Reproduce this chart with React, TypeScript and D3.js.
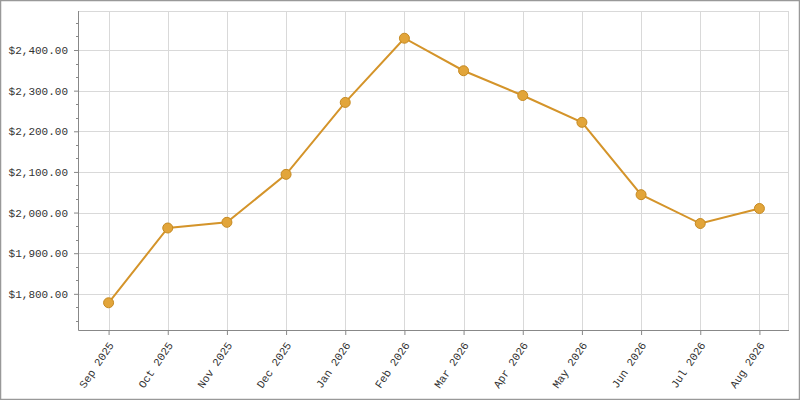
import React, {useEffect, useRef} from 'react';
import * as d3 from 'd3';

const WIDTH = 800;
const HEIGHT = 400;

const months = ['Sep 2025', 'Oct 2025', 'Nov 2025', 'Dec 2025', 'Jan 2026', 'Feb 2026',
    'Mar 2026', 'Apr 2026', 'May 2026', 'Jun 2026', 'Jul 2026', 'Aug 2026'];
const prices = [1778, 1962, 1976, 2094, 2271, 2429, 2349, 2288, 2222, 2044, 1973, 2010];
const yTicks = [1800, 1900, 2000, 2100, 2200, 2300, 2400];
const yDomain = [1711, 2496];

const LINE_COLOR = '#d4942a';
const DOT_FILL = '#e2a53a';
const DOT_STROKE = '#c68a22';
const FONT = '"Liberation Mono", "Courier New", monospace';

const margin = {top: 11, right: 11, bottom: 70, left: 79};

export default function App() {
    const svgRef = useRef<SVGSVGElement>(null);

    useEffect(() => {
        const svg = d3.select(svgRef.current);
        svg.selectAll('*').remove();

        const chartWidth = WIDTH - margin.left - margin.right;
        const chartHeight = HEIGHT - margin.top - margin.bottom;

        const xScale = d3.scalePoint<string>()
            .domain(months)
            .range([0, chartWidth])
            .padding(0.5);
        const yScale = d3.scaleLinear()
            .domain(yDomain)
            .range([chartHeight, 0]);

        // outer frame
        svg.append('rect')
            .attr('x', 0.5).attr('y', 0.5)
            .attr('width', WIDTH - 1).attr('height', HEIGHT - 1)
            .attr('fill', 'white')
            .attr('stroke', '#999')
            .attr('stroke-width', 1.5);

        const g = svg.append('g')
            .attr('transform', `translate(${margin.left},${margin.top})`);

        // grid
        const grid = g.append('g').attr('stroke', '#d9d9d9').attr('stroke-width', 1);
        yTicks.forEach(t => {
            const y = Math.round(yScale(t)) + 0.5;
            grid.append('line').attr('x1', 0).attr('x2', chartWidth).attr('y1', y).attr('y2', y);
        });
        months.forEach(m => {
            const x = Math.round(xScale(m)!) + 0.5;
            grid.append('line').attr('x1', x).attr('x2', x).attr('y1', 0).attr('y2', chartHeight);
        });
        grid.append('line').attr('x1', 0).attr('x2', chartWidth).attr('y1', 0.5).attr('y2', 0.5);
        grid.append('line').attr('x1', chartWidth - 0.5).attr('x2', chartWidth - 0.5)
            .attr('y1', 0).attr('y2', chartHeight);

        // minor y ticks (three per step)
        const minor: number[] = [];
        for (let i = 0; i < yTicks.length - 1; i++) {
            const step = (yTicks[i + 1] - yTicks[i]) / 3;
            minor.push(yTicks[i] + step, yTicks[i] + 2 * step);
        }
        const step0 = (yTicks[1] - yTicks[0]) / 3;
        for (let v = yTicks[0] - step0; v > yDomain[0]; v -= step0) minor.push(v);
        for (let v = yTicks[yTicks.length - 1] + step0; v < yDomain[1]; v += step0) minor.push(v);

        const yAxis = g.append('g')
            .call(d3.axisLeft(yScale)
                .tickValues(yTicks)
                .tickSize(5)
                .tickPadding(6)
                .tickFormat(d => d3.format('$,.2f')(d as number)));
        yAxis.select('.domain').remove();
        yAxis.selectAll('line').attr('stroke', '#888');
        yAxis.selectAll('text')
            .attr('font-family', FONT)
            .attr('font-size', 11)
            .attr('fill', '#333');
        g.append('g').attr('stroke', '#888')
            .selectAll('line')
            .data(minor)
            .join('line')
            .attr('x1', -3).attr('x2', 0)
            .attr('y1', d => Math.round(yScale(d)) + 0.5)
            .attr('y2', d => Math.round(yScale(d)) + 0.5);

        const xAxis = g.append('g')
            .attr('transform', `translate(0,${chartHeight})`)
            .call(d3.axisBottom(xScale).tickSize(5).tickSizeOuter(0));
        xAxis.select('.domain').remove();
        xAxis.selectAll('line').attr('stroke', '#888');
        xAxis.selectAll('text')
            .attr('font-family', FONT)
            .attr('font-size', 11)
            .attr('fill', '#333')
            .attr('text-anchor', 'end')
            .attr('y', 0)
            .attr('dy', '0.35em')
            .attr('transform', 'translate(2,13) rotate(-56)');

        // axis lines
        g.append('line')
            .attr('x1', -0.5).attr('x2', -0.5).attr('y1', 0).attr('y2', chartHeight + 0.5)
            .attr('stroke', '#888');
        g.append('line')
            .attr('x1', -0.5).attr('x2', chartWidth).attr('y1', chartHeight + 0.5).attr('y2', chartHeight + 0.5)
            .attr('stroke', '#888');

        // series
        const line = d3.line<number>()
            .x((_, i) => xScale(months[i])!)
            .y(d => yScale(d));
        g.append('path')
            .datum(prices)
            .attr('d', line)
            .attr('fill', 'none')
            .attr('stroke', LINE_COLOR)
            .attr('stroke-width', 2);

        g.append('g')
            .selectAll('circle')
            .data(prices)
            .join('circle')
            .attr('cx', (_, i) => xScale(months[i])!)
            .attr('cy', d => yScale(d))
            .attr('r', 5)
            .attr('fill', DOT_FILL)
            .attr('stroke', DOT_STROKE)
            .attr('stroke-width', 1);
    }, []);

    return (
        <div style={{position: 'fixed', top: 0, left: 0}}>
            <svg ref={svgRef} width={WIDTH} height={HEIGHT} style={{display: 'block'}}/>
        </div>
    );
}
